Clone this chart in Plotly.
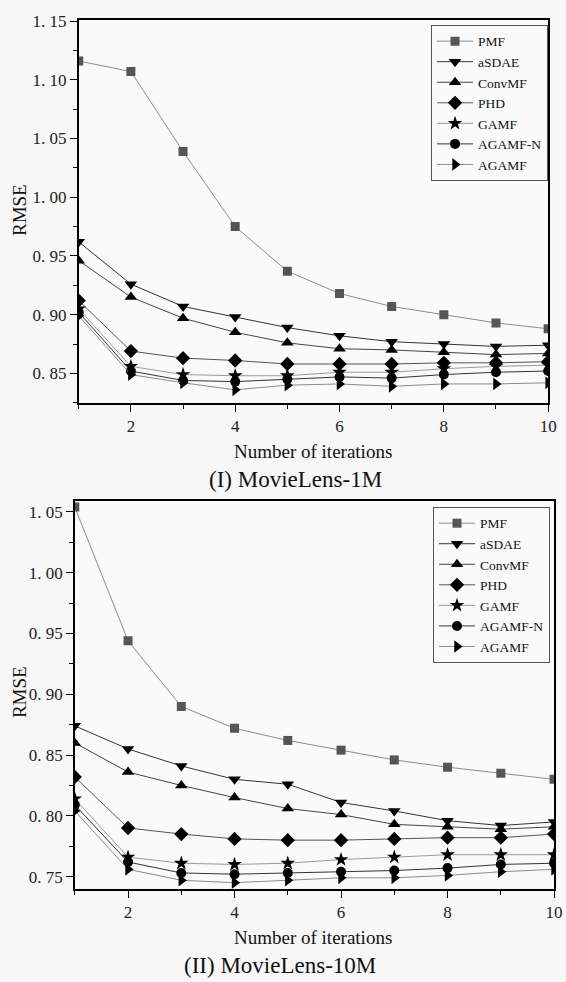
import plotly.graph_objects as go

iterations = [1, 2, 3, 4, 5, 6, 7, 8, 9, 10]
series_names = ["PMF", "aSDAE", "ConvMF", "PHD", "GAMF", "AGAMF-N", "AGAMF"]

# MovieLens-1M
pmf_1m = [1.116, 1.107, 1.039, 0.975, 0.937, 0.918, 0.907, 0.900, 0.893, 0.888]
asdae_1m = [0.962, 0.926, 0.907, 0.898, 0.889, 0.882, 0.877, 0.875, 0.873, 0.874]
convmf_1m = [0.946, 0.915, 0.897, 0.885, 0.876, 0.871, 0.870, 0.868, 0.866, 0.867]
phd_1m = [0.912, 0.869, 0.863, 0.861, 0.858, 0.858, 0.858, 0.859, 0.859, 0.860]
gamf_1m = [0.905, 0.856, 0.849, 0.848, 0.848, 0.851, 0.851, 0.854, 0.856, 0.857]
agamfn_1m = [0.902, 0.852, 0.844, 0.843, 0.845, 0.847, 0.846, 0.849, 0.851, 0.852]
agamf_1m = [0.899, 0.849, 0.842, 0.836, 0.840, 0.841, 0.839, 0.841, 0.841, 0.842]

# MovieLens-10M
pmf_10m = [1.054, 0.944, 0.890, 0.872, 0.862, 0.854, 0.846, 0.840, 0.835, 0.830]
asdae_10m = [0.874, 0.855, 0.841, 0.830, 0.826, 0.811, 0.804, 0.796, 0.792, 0.795]
convmf_10m = [0.860, 0.836, 0.825, 0.815, 0.806, 0.801, 0.793, 0.791, 0.789, 0.791]
phd_10m = [0.832, 0.790, 0.785, 0.781, 0.780, 0.780, 0.781, 0.782, 0.782, 0.785]
gamf_10m = [0.814, 0.766, 0.761, 0.760, 0.761, 0.764, 0.766, 0.768, 0.768, 0.768]
agamfn_10m = [0.809, 0.762, 0.753, 0.752, 0.753, 0.754, 0.755, 0.757, 0.760, 0.761]
agamf_10m = [0.804, 0.756, 0.747, 0.745, 0.747, 0.749, 0.749, 0.751, 0.754, 0.756]

x_tick_vals = [2, 4, 6, 8, 10]
x_tick_text = ["2", "4", "6", "8", "10"]
y_tick_vals_1m = [0.85, 0.90, 0.95, 1.00, 1.05, 1.10, 1.15]
y_tick_text_1m = ["0. 85", "0. 90", "0. 95", "1. 00", "1. 05", "1. 10", "1. 15"]
y_tick_vals_10m = [0.75, 0.80, 0.85, 0.90, 0.95, 1.00, 1.05]
y_tick_text_10m = ["0. 75", "0. 80", "0. 85", "0. 90", "0. 95", "1. 00", "1. 05"]

data_1m = [pmf_1m, asdae_1m, convmf_1m, phd_1m, gamf_1m, agamfn_1m, agamf_1m]
data_10m = [pmf_10m, asdae_10m, convmf_10m, phd_10m, gamf_10m, agamfn_10m, agamf_10m]

symbols = ["square", "triangle-down", "triangle-up", "diamond", "star", "circle", "triangle-right"]
marker_colors = ["#555555", "#000000", "#000000", "#000000", "#000000", "#000000", "#000000"]
line_colors = ["#8c8c8c", "#333333", "#444444", "#555555", "#9a9a9a", "#333333", "#8a8a8a"]
marker_sizes = [9, 11, 11, 11, 11, 10, 11]

SERIF = "Liberation Serif, Times New Roman, serif"

fig = go.Figure()
for i, name in enumerate(series_names):
    fig.add_trace(go.Scatter(
        x=iterations, y=data_1m[i], name=name, mode="lines+markers",
        line=dict(color=line_colors[i], width=1),
        marker=dict(symbol=symbols[i], color=marker_colors[i], size=marker_sizes[i]),
        xaxis="x", yaxis="y", legend="legend"))
for i, name in enumerate(series_names):
    fig.add_trace(go.Scatter(
        x=iterations, y=data_10m[i], name=name, mode="lines+markers",
        line=dict(color=line_colors[i], width=1),
        marker=dict(symbol=symbols[i], color=marker_colors[i], size=marker_sizes[i]),
        xaxis="x2", yaxis="y2", legend="legend2"))

W, H = 566, 982

def xdom(l, r):
    return [l / W, r / W]

def ydom(t, b):
    return [1 - b / H, 1 - t / H]

axis_common = dict(
    showgrid=False, zeroline=False, showline=True, linecolor="black", linewidth=1.5,
    mirror=True, ticks="outside", ticklen=7, tickcolor="black", tickwidth=1.2,
    tickfont=dict(family=SERIF, size=17, color="#222"),
)

minor_x = dict(dtick=1, tick0=1, ticks="outside", ticklen=4, tickcolor="black")

fig.update_layout(
    width=W, height=H,
    margin=dict(l=0, r=0, t=0, b=0),
    paper_bgcolor="#f7f7f7", plot_bgcolor="#fafafa",
    showlegend=True,
    xaxis=dict(domain=xdom(80, 557), anchor="y", range=[1, 10],
               tickvals=x_tick_vals, ticktext=x_tick_text, minor=minor_x,
               **axis_common),
    yaxis=dict(domain=ydom(12, 398), anchor="x", range=[0.825, 1.151],
               tickvals=y_tick_vals_1m, ticktext=y_tick_text_1m,
               minor=dict(dtick=0.025, tick0=0.825, ticks="outside", ticklen=4, tickcolor="black"),
               **axis_common),
    xaxis2=dict(domain=xdom(76, 563), anchor="y2", range=[1, 10],
                tickvals=x_tick_vals, ticktext=x_tick_text, minor=minor_x,
                **axis_common),
    yaxis2=dict(domain=ydom(497, 888), anchor="x2", range=[0.740, 1.059],
                tickvals=y_tick_vals_10m, ticktext=y_tick_text_10m,
                minor=dict(dtick=0.025, tick0=0.725, ticks="outside", ticklen=4, tickcolor="black"),
                **axis_common),
    legend=dict(x=438 / W, y=1 - 17 / H, xanchor="left", yanchor="top",
                bgcolor="#fafafa", bordercolor="#555", borderwidth=1,
                font=dict(family=SERIF, size=13.5, color="#111"),
                itemwidth=36, tracegroupgap=0),
    legend2=dict(x=440 / W, y=1 - 503 / H, xanchor="left", yanchor="top",
                 bgcolor="#fafafa", bordercolor="#555", borderwidth=1,
                 font=dict(family=SERIF, size=13.5, color="#111"),
                 itemwidth=36, tracegroupgap=0),
)

annots = [
    dict(text="RMSE", x=20 / W, y=1 - 204 / H, textangle=-90, font=dict(size=19)),
    dict(text="Number of iterations", x=318 / W, y=1 - 447 / H, font=dict(size=19)),
    dict(text="(I) MovieLens-1M", x=300 / W, y=1 - 475 / H, font=dict(size=23)),
    dict(text="RMSE", x=20 / W, y=1 - 690 / H, textangle=-90, font=dict(size=19)),
    dict(text="Number of iterations", x=318 / W, y=1 - 937 / H, font=dict(size=19)),
    dict(text="(II) MovieLens-10M", x=285 / W, y=1 - 965 / H, font=dict(size=23)),
]
for a in annots:
    f = a.pop("font")
    fig.add_annotation(xref="paper", yref="paper", xanchor="center", yanchor="middle",
                       showarrow=False, font=dict(family=SERIF, color="#111", **f), **a)

fig.write_html(
    "out.html",
    config={"displayModeBar": False},
    post_script="document.body.style.margin='0';document.body.style.overflow='hidden';",
)
